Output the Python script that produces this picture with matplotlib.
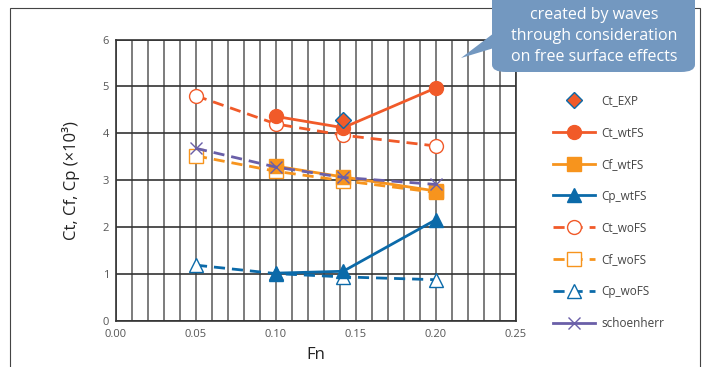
import numpy as np
import matplotlib
matplotlib.use("Agg")
import matplotlib.pyplot as plt
from matplotlib.lines import Line2D
from matplotlib.patches import Rectangle, FancyBboxPatch, Polygon

plt.rcParams['font.family'] = ['Open Sans', 'DejaVu Sans']

# data
fn_exp = [0.142]
ct_exp = [4.28]

fn_wt = [0.10, 0.142, 0.20]
ct_wt = [4.36, 4.12, 4.97]
cf_wt = [3.30, 3.07, 2.77]
cp_wt = [1.02, 1.06, 2.16]

fn_wo = [0.05, 0.10, 0.142, 0.20]
ct_wo = [4.80, 4.20, 3.96, 3.73]
cf_wo = [3.52, 3.19, 2.99, 2.74]
cp_wo = [1.19, 1.01, 0.94, 0.88]

fn_sch = [0.05, 0.10, 0.142, 0.20]
c_sch = [3.68, 3.28, 3.06, 2.91]

red = '#F15A29'
orange = '#F7941D'
blue = '#0B6AA9'
purple = '#6A5FA8'
grey = '#555555'

fig = plt.figure(figsize=(7.05, 3.67), dpi=100)
ax = fig.add_axes([116/705, 1-321/367, 400/705, 281.5/367])

# outer frame of the chart
fig.patches.append(Rectangle((10/705, -0.05), 690/705, 1.05 - 8/367, transform=fig.transFigure,
                             fill=False, edgecolor='#444444', lw=0.8, zorder=0))

ax.set_xlim(0, 0.25)
ax.set_ylim(0, 6)
ax.set_xticks(np.arange(0, 0.2501, 0.05))
ax.set_xticklabels(['%.2f' % v for v in np.arange(0, 0.2501, 0.05)])
ax.set_xticks(np.arange(0, 0.2501, 0.01), minor=True)
ax.set_yticks(range(0, 7))
ax.tick_params(which='both', length=0, labelsize=8, colors=grey)
ax.tick_params(axis='x', pad=6)
ax.tick_params(axis='y', pad=5)
ax.grid(which='minor', axis='x', color='#666666', lw=1.2)
ax.grid(which='major', axis='x', color='#666666', lw=1.2)
ax.grid(which='major', axis='y', color='#333333', lw=1.2)
ax.set_axisbelow(True)
for s in ax.spines.values():
    s.set_color('#333333')
    s.set_linewidth(1.2)

dash = (4, 2.5)
lw = 2.0
h_exp, = ax.plot(fn_exp, ct_exp, ls='none', marker='D', ms=8.5, mfc=red, mec=blue, mew=1.0, zorder=6)
h_ctw, = ax.plot(fn_wt, ct_wt, color=red, lw=lw, marker='o', ms=10, zorder=5)
h_cfw, = ax.plot(fn_wt, cf_wt, color=orange, lw=lw, marker='s', ms=10, zorder=5)
h_cpw, = ax.plot(fn_wt, cp_wt, color=blue, lw=lw, marker='^', ms=10, zorder=5)
h_cto, = ax.plot(fn_wo, ct_wo, color=red, lw=lw, ls='--', dashes=dash, marker='o', ms=10,
                 mfc='white', mec=red, mew=1.0, zorder=4)
h_cfo, = ax.plot(fn_wo, cf_wo, color=orange, lw=lw, ls='--', dashes=dash, marker='s', ms=10,
                 mfc='white', mec=orange, mew=1.0, zorder=4)
h_cpo, = ax.plot(fn_wo, cp_wo, color=blue, lw=lw, ls='--', dashes=dash, marker='^', ms=10,
                 mfc='white', mec=blue, mew=1.0, zorder=4)
ax.plot(fn_sch, c_sch, color=purple, lw=lw, ls='--', dashes=dash, marker='x', ms=9, mew=1.0, zorder=6)
h_sch = Line2D([], [], color=purple, lw=lw, marker='x', ms=9, mew=1.0)

ax.set_xlabel('Fn', fontsize=12, color='#222222', labelpad=5)
ax.set_ylabel('Ct, Cf, Cp (×10³)', fontsize=12, color='#222222', labelpad=16)

fig.legend([h_exp, h_ctw, h_cfw, h_cpw, h_cto, h_cfo, h_cpo, h_sch],
           ['Ct_EXP', 'Ct_wtFS', 'Cf_wtFS', 'Cp_wtFS', 'Ct_woFS', 'Cf_woFS', 'Cp_woFS', 'schoenherr'],
           loc='upper left', bbox_to_anchor=(547/705, 1-88/367), frameon=False,
           fontsize=8.5, labelcolor='#444444', handlelength=3.6, labelspacing=1.6,
           handletextpad=0.5, borderpad=0)

# callout box
box_col = '#7398C0'
fig.patches.append(FancyBboxPatch((492/705, 1-72/367), 203/705, 90/367, transform=fig.transFigure,
                                  boxstyle='round,pad=0,rounding_size=0.02', fc=box_col, ec='none',
                                  zorder=10))
fig.patches.append(Polygon([(494/705, 1-33/367), (461/705, 1-58/367), (494/705, 1-48/367)],
                           closed=True, transform=fig.transFigure, fc=box_col, ec='none', zorder=10))
for txt, yp in [('Can estimate resistance', -5), ('created by waves', 15),
                ('through consideration', 36), ('on free surface effects', 57)]:
    fig.text(594/705, 1-yp/367, txt, ha='center', va='center', fontsize=11.5, color='white', zorder=11)

fig.savefig('out.png', dpi=100)
